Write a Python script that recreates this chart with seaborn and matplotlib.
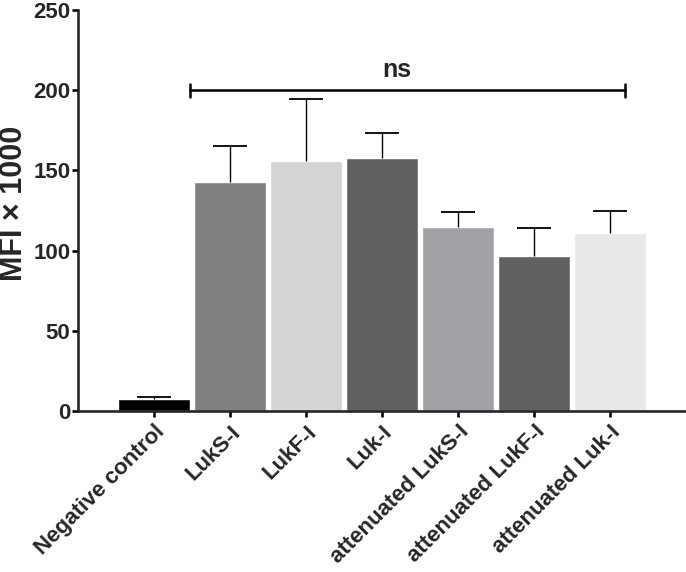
import matplotlib
matplotlib.use("Agg")
import matplotlib.pyplot as plt
import seaborn as sns
import pandas as pd

# values (MFI x 1000)
groups = ["Negative control", "LukS-I", "LukF-I", "Luk-I",
          "attenuated LukS-I", "attenuated LukF-I", "attenuated Luk-I"]
means = [7.7, 143, 156, 158, 115, 96.5, 111]
upper = [8.7, 165.5, 194.5, 173.5, 124, 114, 124.5]
bar_colors = ["#000000", "#808080", "#d4d4d4", "#616161",
              "#a1a1a5", "#616161", "#e8e8e8"]
yticks = [0, 50, 100, 150, 200, 250]

df = pd.DataFrame({"group": groups, "mfi": means, "upper": upper})

sns.set_style("ticks")
plt.rcParams["font.family"] = ["Liberation Sans", "DejaVu Sans"]

fig = plt.figure(figsize=(6.86, 5.72), dpi=100)
ax = fig.add_axes([0.1137, 0.2815, 0.8863, 0.701])

sns.barplot(data=df, x="group", y="mfi", hue="group", palette=bar_colors,
            legend=False, width=0.96, saturation=1, ax=ax, errorbar=None)

# upper-only error bars (SD), cap on top only
xs = list(range(len(groups)))
ax.vlines(xs, df["mfi"], df["upper"], color="black", lw=1.0)
ax.hlines(df["upper"], [x - 0.22 for x in xs], [x + 0.22 for x in xs],
          color="black", lw=1.3)

# ns bracket
bx0, bx1, by = 0.47, 6.2, 200
ax.plot([bx0, bx1], [by, by], color="black", lw=1.8)
ax.plot([bx0, bx0], [by - 4, by + 4], color="black", lw=1.8)
ax.plot([bx1, bx1], [by - 4, by + 4], color="black", lw=1.8)
ax.text(3.2, by + 5, "ns", ha="center", va="bottom",
        fontsize=18, fontweight="bold")

ax.set_xlim(-1, 7)
ax.set_ylim(0, 250)
ax.set_yticks(yticks)
ax.set_xlabel("")
ax.set_ylabel("")
fig.text(0.021, 0.645, "MFI × 1000", rotation=90, ha="center", va="center",
         fontsize=22, fontweight="bold")
ax.set_xticks(xs)
ax.set_xticklabels(groups, rotation=45, ha="right", rotation_mode="anchor",
                   fontsize=16, fontweight="bold")
for lab in ax.get_yticklabels():
    lab.set_fontweight("bold")
    lab.set_fontsize(16)

sns.despine(ax=ax)
ax.spines["left"].set_linewidth(1.9)
ax.spines["bottom"].set_linewidth(1.9)
ax.tick_params(axis="both", width=1.9, length=4, color="black")
ax.tick_params(axis="y", pad=1.5)

fig.savefig("out.png", dpi=100)
